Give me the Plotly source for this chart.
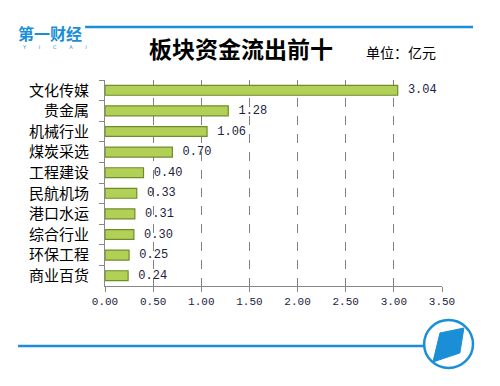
import plotly.graph_objects as go

categories = ["文化传媒", "贵金属", "机械行业", "煤炭采选", "工程建设", "民航机场", "港口水运", "综合行业", "环保工程", "商业百货"]
values = [3.04, 1.28, 1.06, 0.70, 0.40, 0.33, 0.31, 0.30, 0.25, 0.24]
tick_vals = [0, 0.5, 1.0, 1.5, 2.0, 2.5, 3.0, 3.5]
tick_text = ["0.00", "0.50", "1.00", "1.50", "2.00", "2.50", "3.00", "3.50"]

fig = go.Figure()
fig.add_trace(go.Bar(
    x=values, y=categories, orientation="h",
    marker=dict(color="#b2d056", line=dict(color="#6f8c2c", width=1.2)),
    width=0.48,
    text=[f" {v:.2f}" for v in values], textposition="outside",
    constraintext="none",
    textfont=dict(family="Liberation Mono, DejaVu Sans Mono", size=12, color="#1c2340"),
    cliponaxis=False,
))

fig.update_layout(
    width=500, height=386,
    margin=dict(l=97, r=66, t=72, b=108),
    plot_bgcolor="white", paper_bgcolor="white",
    showlegend=False,
    xaxis=dict(range=[0, 3.5], tickvals=tick_vals, ticktext=tick_text, automargin=False,
               showgrid=True, gridcolor="#808080", griddash="dash", gridwidth=1,
               showline=True, linecolor="#888888", linewidth=1,
               ticks="outside", ticklen=5, tickcolor="#888888",
               tickfont=dict(family="Liberation Mono, DejaVu Sans Mono", size=11, color="#1c2340"),
               zeroline=False, fixedrange=True),
    yaxis=dict(autorange="reversed", showline=True, linecolor="#888888", linewidth=1,
               automargin=False,
               ticks="outside", ticklen=5, tickcolor="#888888", tickson="boundaries",
               ticklabelstandoff=12,
               tickfont=dict(family="Noto Sans CJK SC", size=15, color="#000000"),
               showgrid=False, fixedrange=True),
)

# header line and logo
fig.add_shape(type="line", xref="paper", yref="paper", x0=-0.059, x1=1.092, y0=1.257, y1=1.257,
              line=dict(color="#1a8fd8", width=2.5))
fig.add_annotation(xref="paper", yref="paper", x=-0.262, y=1.228, xanchor="left", yanchor="middle",
                   text="<b>第一财经</b>", showarrow=False, borderpad=0,
                   font=dict(family="Noto Sans CJK SC", size=16, color="#1a8fd8"))
fig.add_annotation(xref="paper", yref="paper", x=-0.25, y=1.16, xanchor="left", yanchor="middle",
                   text="Y        I        C        A        I", showarrow=False, borderpad=0,
                   font=dict(family="DejaVu Sans", size=5, color="#1a8fd8"))
fig.add_annotation(xref="paper", yref="paper", x=0.125, y=1.155, xanchor="left", yanchor="middle",
                   text="<b>板块资金流出前十</b>", showarrow=False,
                   font=dict(family="Noto Sans CJK SC", size=23, color="#000000"))
fig.add_annotation(xref="paper", yref="paper", x=0.77, y=1.136, xanchor="left", yanchor="middle",
                   text="单位：亿元", showarrow=False,
                   font=dict(family="Noto Sans CJK SC", size=14, color="#000000"))

# footer line and circular logo
fig.add_shape(type="line", xref="paper", yref="paper", x0=-0.258, x1=0.95, y0=-0.291, y1=-0.291,
              line=dict(color="#1a8fd8", width=2.5))
fig.add_shape(type="circle", xref="paper", yref="paper",
              x0=0.947, x1=1.092, y0=-0.398, y1=-0.165,
              line=dict(color="#1a8fd8", width=2.5), fillcolor="white")
fig.add_shape(type="path", xref="paper", yref="paper",
              path="M 0.994 -0.228 L 1.065 -0.204 L 1.053 -0.325 L 0.973 -0.369 Z",
              fillcolor="#1a8fd8", line=dict(color="#1a8fd8", width=1))

fig.write_html("out.html")
